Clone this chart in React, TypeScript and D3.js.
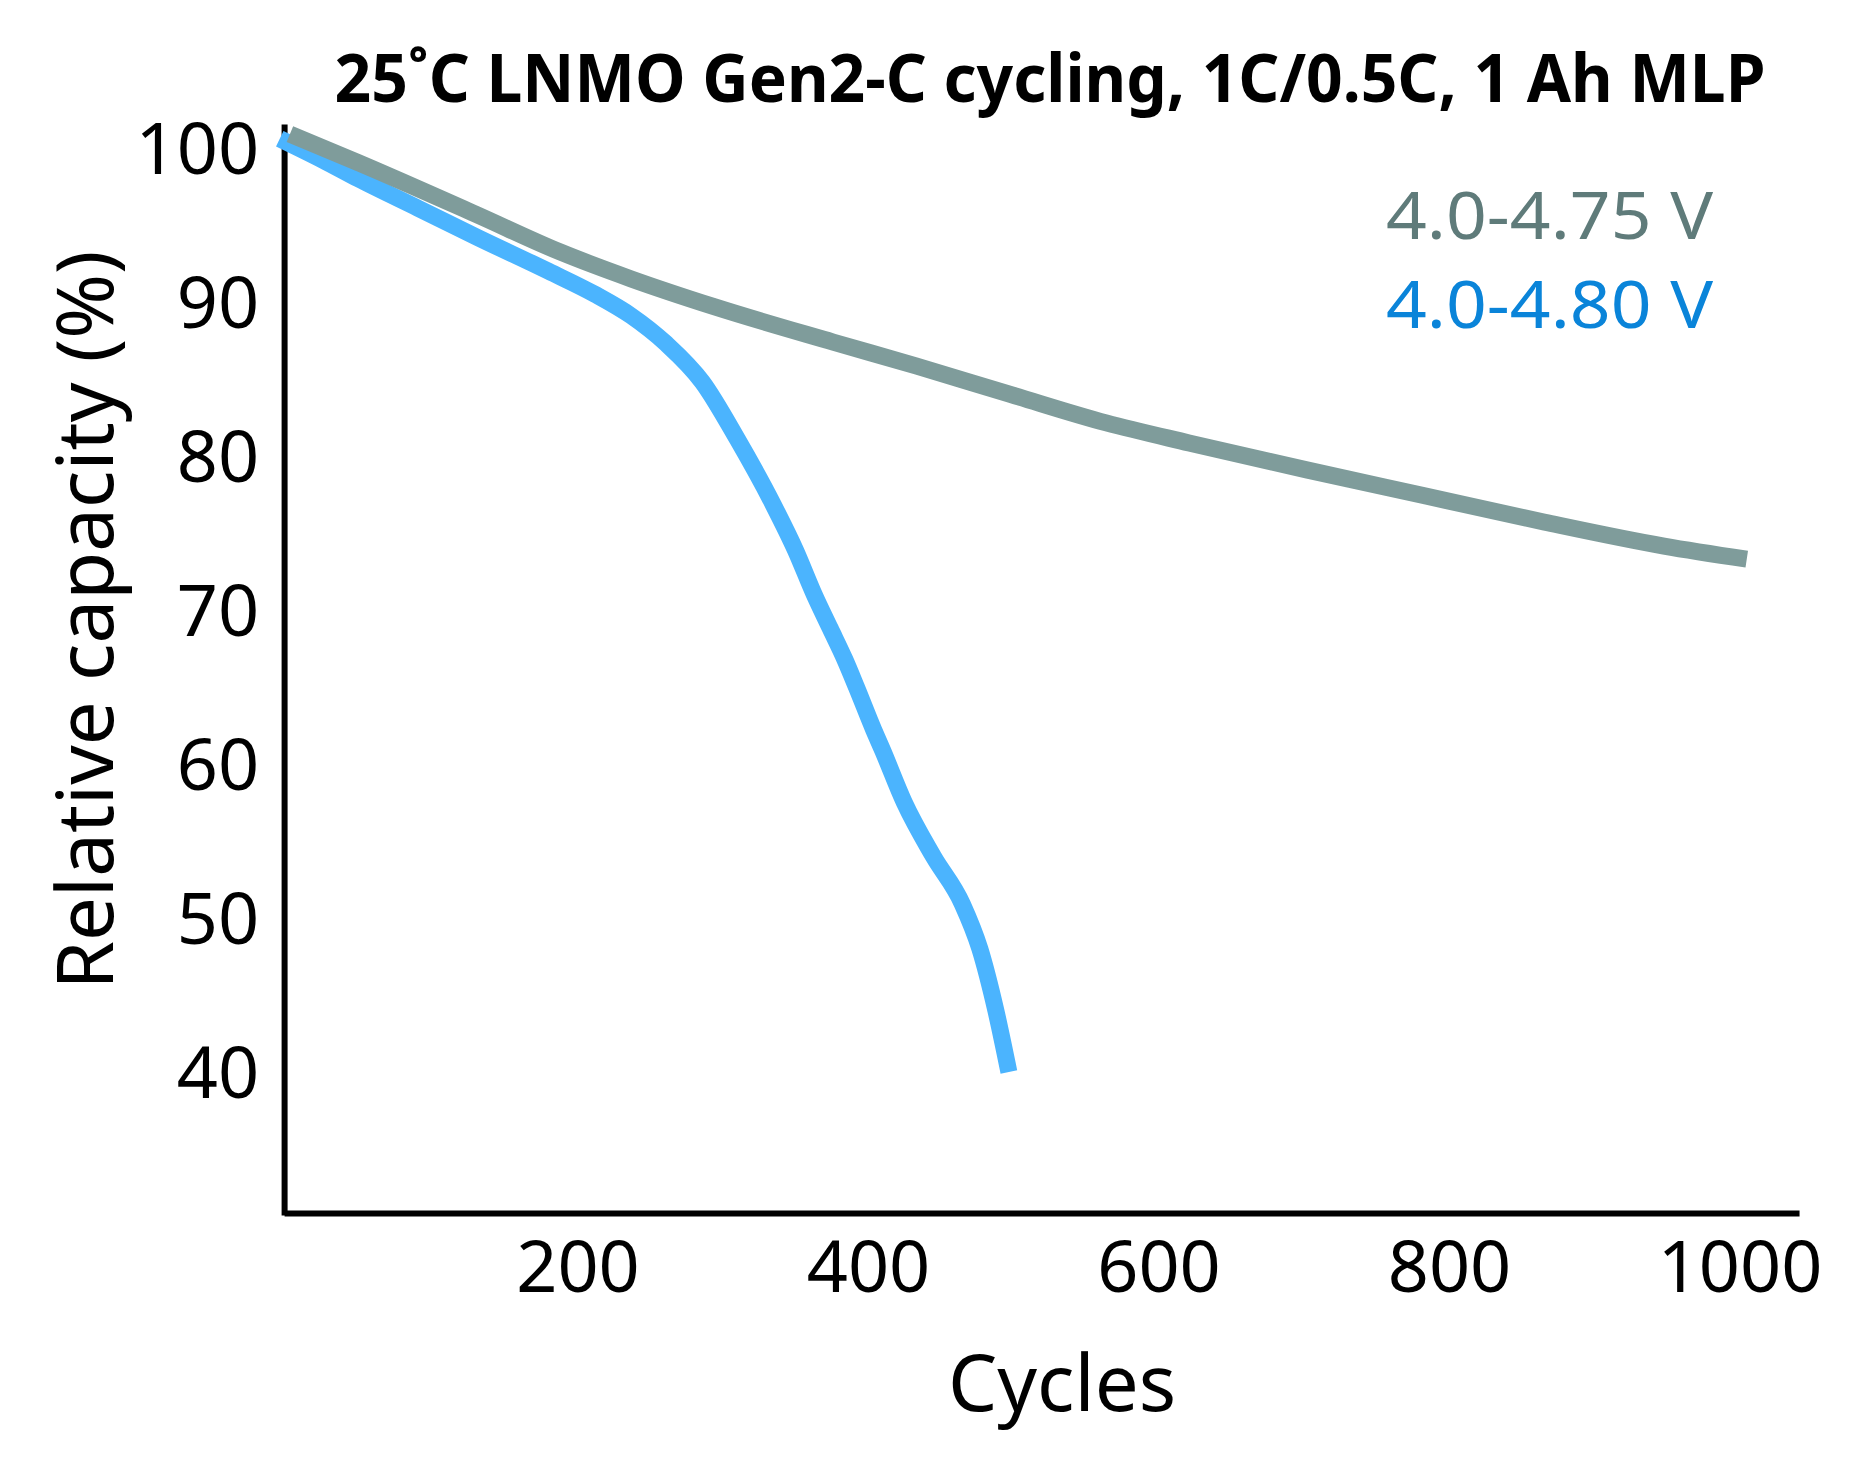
import React from 'react';
import { select, scaleLinear, axisLeft, axisBottom, line, curveMonotoneX } from 'd3';

// 4.0-4.75 V cell
const grayCycles = [2, 49, 130, 188, 237, 294, 376, 433, 498, 564, 621, 702, 784, 866, 948, 1005];
const grayCapacity = [100.9, 99.05, 95.7, 93.25, 91.5, 89.7, 87.4, 85.85, 84.0, 82.15, 80.85, 79.1, 77.4, 75.7, 74.15, 73.3];

// 4.0-4.80 V cell
const blueCycles = [-5, 25, 49, 90, 131, 180, 212, 237, 261, 286, 310, 335, 350, 363, 374, 384, 392, 404, 410, 425, 445, 465, 477, 488, 497];
const blueCapacity = [100.6, 99.2, 98.0, 96.1, 94.2, 92.0, 90.5, 89.1, 87.3, 84.8, 81.1, 76.8, 73.9, 71.0, 68.8, 66.8, 65.0, 62.2, 60.9, 57.5, 54.0, 50.9, 48.0, 44.0, 40.0];

const xTicks = [200, 400, 600, 800, 1000];
const yTicks = [40, 50, 60, 70, 80, 90, 100];
const legendLabels = ['4.0-4.75 V', '4.0-4.80 V'];

const title = '25˚C LNMO Gen2-C cycling, 1C/0.5C, 1 Ah MLP';

const width = 1864;
const height = 1480;
const font = '"Noto Sans", "Open Sans", sans-serif';

const colors = {
    grayLine: '#7f9c9b',
    grayText: '#5f7b7a',
    blueLine: '#4bb4fe',
    blueText: '#0a84d9',
};

const App: React.FC = () => {
    const svgRef = React.useRef<SVGSVGElement>(null);

    React.useEffect(() => {
        const svg = select(svgRef.current);
        svg.selectAll('*').remove();

        const xScale = scaleLinear().domain([0, 1000]).range([287, 1739.5]);
        const yScale = scaleLinear().domain([40, 100]).range([1072, 148]);

        // axis scales cover the whole drawn frame
        const xAxisScale = xScale.copy().domain([-2, 1041]).range([xScale(-2), xScale(1041)]);
        const yAxisScale = yScale.copy()
            .domain([yScale.invert(1215), yScale.invert(124)])
            .range([1215, 124]);

        const xAxis = axisBottom(xAxisScale).tickValues(xTicks).tickSize(0).tickSizeOuter(0)
            .tickFormat(d => String(d));
        const yAxis = axisLeft(yAxisScale).tickValues(yTicks).tickSize(0).tickSizeOuter(0)
            .tickFormat(d => String(d));

        const xg = svg.append('g')
            .attr('transform', `translate(0, ${yAxisScale.range()[0] - 2})`)
            .call(xAxis);
        xg.attr('font-size', 72).attr('font-family', font);
        xg.select('.domain').attr('stroke', '#000').attr('stroke-width', 6);
        xg.selectAll('text').attr('y', 79).attr('dy', 0).attr('fill', '#000');

        const yg = svg.append('g')
            .attr('transform', `translate(${xAxisScale.range()[0]}, 0)`)
            .call(yAxis);
        yg.attr('font-size', 72).attr('font-family', font);
        yg.select('.domain').attr('stroke', '#000').attr('stroke-width', 6);
        yg.selectAll('text').attr('x', -25).attr('dy', '0.36em').attr('fill', '#000');

        const lineGen = line<[number, number]>()
            .x(d => xScale(d[0]))
            .y(d => yScale(d[1]))
            .curve(curveMonotoneX);

        const blue = blueCycles.map((c, i) => [c, blueCapacity[i]] as [number, number]);
        const gray = grayCycles.map((c, i) => [c, grayCapacity[i]] as [number, number]);

        svg.append('path')
            .attr('d', lineGen(blue))
            .attr('fill', 'none')
            .attr('stroke', colors.blueLine)
            .attr('stroke-width', 17);

        svg.append('path')
            .attr('d', lineGen(gray))
            .attr('fill', 'none')
            .attr('stroke', colors.grayLine)
            .attr('stroke-width', 17);

        // legend
        svg.selectAll('.legend')
            .data(legendLabels)
            .join('text')
            .attr('class', 'legend')
            .attr('x', 1386)
            .attr('y', (d, i) => 239 + i * 89)
            .attr('font-family', font)
            .attr('font-size', 65)
            .attr('textLength', 327)
            .attr('lengthAdjust', 'spacingAndGlyphs')
            .attr('fill', (d, i) => (i === 0 ? colors.grayText : colors.blueText))
            .text(d => d);

        // titles
        svg.append('text')
            .attr('x', 1050)
            .attr('y', 102)
            .attr('text-anchor', 'middle')
            .attr('font-family', font)
            .attr('font-weight', 'bold')
            .attr('font-size', 66)
            .attr('textLength', 1431)
            .attr('lengthAdjust', 'spacingAndGlyphs')
            .text(title);

        svg.append('text')
            .attr('x', 1062)
            .attr('y', 1411)
            .attr('text-anchor', 'middle')
            .attr('font-family', font)
            .attr('font-size', 78)
            .text('Cycles');

        svg.append('text')
            .attr('transform', 'translate(113, 620) rotate(-90)')
            .attr('text-anchor', 'middle')
            .attr('font-family', font)
            .attr('font-size', 78)
            .text('Relative capacity (%)');
    }, []);

    return (
        <svg
            ref={svgRef}
            width={width}
            height={height}
            style={{ position: 'absolute', left: 0, top: 0, background: '#fff' }}
        />
    );
};

export default App;
